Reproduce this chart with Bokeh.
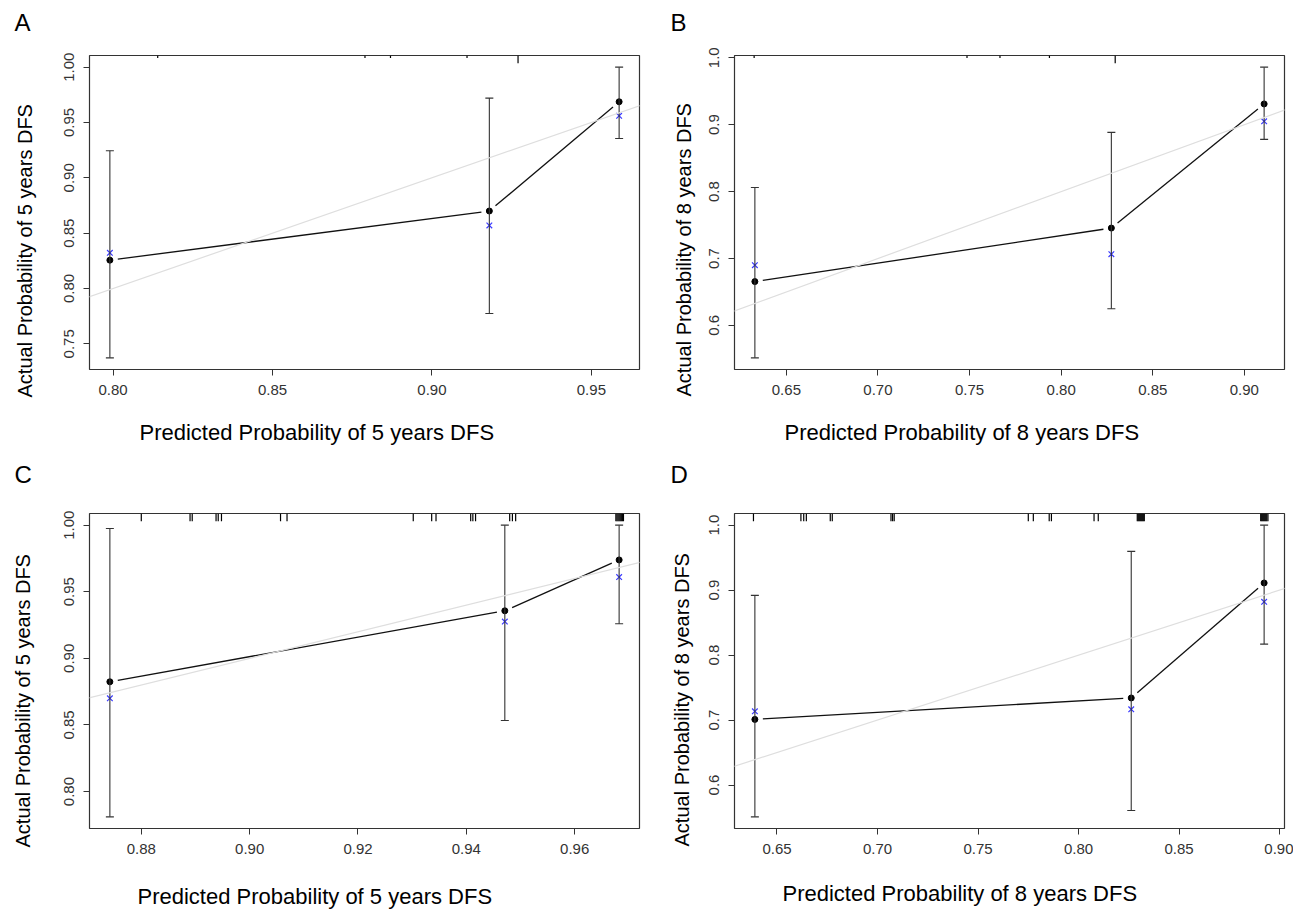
import math
from bokeh.plotting import figure
from bokeh.layouts import row, column
from bokeh.models import (Range1d, FixedTicker, Slope, Whisker, ColumnDataSource,
                          Title, TeeHead, NumeralTickFormatter)
from bokeh.embed import file_html
from bokeh.resources import INLINE

# ---------------- data ----------------
# Panel A : 5-year DFS (training)
a_pred = [0.799, 0.918, 0.9587]
a_obs = [0.8256, 0.870, 0.9687]
a_corr = [0.8322, 0.857, 0.956]
a_lo = [0.7373, 0.7774, 0.9355]
a_hi = [0.9244, 0.972, 1.0]
a_rug = [0.814, 0.879, 0.887, 0.911, 0.927]
a_rug_n = [1, 1, 1, 1, 3]
a_xticks = [0.80, 0.85, 0.90, 0.95]
a_yticks = [0.75, 0.80, 0.85, 0.90, 0.95, 1.00]

# Panel B : 8-year DFS (training)
b_pred = [0.6328, 0.8274, 0.9108]
b_obs = [0.6655, 0.7455, 0.931]
b_corr = [0.690, 0.7065, 0.905]
b_lo = [0.5515, 0.625, 0.878]
b_hi = [0.806, 0.8885, 0.986]
b_rug = [0.6324, 0.7486, 0.7666, 0.7936, 0.8295]
b_rug_n = [1, 1, 1, 1, 3]
b_xticks = [0.65, 0.70, 0.75, 0.80, 0.85, 0.90]
b_yticks = [0.6, 0.7, 0.8, 0.9, 1.0]

# Panel C : 5-year DFS (validation)
c_pred = [0.8742, 0.9471, 0.9682]
c_obs = [0.8824, 0.9357, 0.9739]
c_corr = [0.870, 0.9276, 0.961]
c_lo = [0.781, 0.8533, 0.926]
c_hi = [0.9975, 1.0, 1.0]
c_rug = [0.8800, 0.8890, 0.8894, 0.8938, 0.8942, 0.8948, 0.9057, 0.9069,
         0.9302, 0.9336, 0.9344, 0.9408, 0.9412, 0.9417, 0.9480, 0.9485,
         0.9491, 0.9676, 0.9678, 0.9680, 0.9682, 0.9684, 0.9686, 0.9688, 0.9690]
c_rug_n = [3] * len(c_rug)
c_xticks = [0.88, 0.90, 0.92, 0.94, 0.96]
c_yticks = [0.80, 0.85, 0.90, 0.95, 1.00]

# Panel D : 8-year DFS (validation)
d_pred = [0.639, 0.8262, 0.8923]
d_obs = [0.701, 0.734, 0.911]
d_corr = [0.7134, 0.7165, 0.882]
d_lo = [0.551, 0.5608, 0.8169]
d_hi = [0.8919, 0.9596, 1.0]
d_rug = [0.6383, 0.6619, 0.6633, 0.6646, 0.6765, 0.6775, 0.7067, 0.7075, 0.7083,
         0.7750, 0.7775, 0.7854, 0.7865, 0.8077, 0.8098,
         0.8292, 0.8297, 0.8302, 0.8307, 0.8312, 0.8317, 0.8322, 0.8327,
         0.8906, 0.8911, 0.8916, 0.8921, 0.8926, 0.8931, 0.8936, 0.8942]
d_rug_n = [3] * len(d_rug)
d_xticks = [0.65, 0.70, 0.75, 0.80, 0.85, 0.90]
d_yticks = [0.6, 0.7, 0.8, 0.9, 1.0]

xlab5 = "Predicted Probability of 5 years DFS"
xlab8 = "Predicted Probability of 8 years DFS"
ylab5 = "Actual Probability of 5 years DFS"
ylab8 = "Actual Probability of 8 years DFS"

# ---------------- styling ----------------
FW = 550
TXT = "Liberation Sans"
DARK = "#333333"


def spacer(px):
    # blank title used only to reserve px pixels in a side panel
    return Title(text=" ", text_font_size="1px", standoff=max(px - 3, 0),
                 text_color="white")


def panel(pred, obs, corr, lo, hi, rug, rug_n, xticks, yticks, yfmt,
          letter, xlab, ylab, fh, top, bottom, left, right, pos):
    xs = max(pred) - min(pred)
    x0, x1 = min(pred) - 0.04 * xs, max(pred) + 0.04 * xs
    ys = max(hi) - min(lo)
    y0, y1 = min(lo) - 0.04 * ys, max(hi) + 0.04 * ys
    p = figure(frame_width=FW, frame_height=fh, min_border_left=left,
               min_border_right=right, min_border_top=top, min_border_bottom=bottom,
               x_range=Range1d(x0, x1), y_range=Range1d(y0, y1),
               output_backend="svg", toolbar_location=None,
               background_fill_color="white", border_fill_color="white")
    p.xgrid.visible = False
    p.ygrid.visible = False
    p.outline_line_color = DARK
    p.outline_line_width = 1.2
    p.outline_line_alpha = 1.0
    for ax, ticks in ((p.xaxis[0], xticks), (p.yaxis[0], yticks)):
        ax.ticker = FixedTicker(ticks=ticks)
        ax.axis_line_color = None
        ax.major_tick_line_color = DARK
        ax.major_tick_out = 6
        ax.major_tick_in = 0
        ax.minor_tick_line_color = None
        ax.major_label_text_font = TXT
        ax.major_label_text_font_size = "15px"
        ax.major_label_text_color = DARK
        ax.major_label_standoff = 9
    p.xaxis[0].formatter = NumeralTickFormatter(format="0.00")
    p.yaxis[0].formatter = NumeralTickFormatter(format=yfmt)
    p.yaxis[0].major_label_orientation = "vertical"

    # ideal line
    p.add_layout(Slope(gradient=1, y_intercept=0, line_color="#dedede", line_width=1.2))

    # error bars
    src = ColumnDataSource(dict(x=pred, lo=lo, hi=hi, obs=obs, corr=corr))
    p.add_layout(Whisker(base="x", lower="lo", upper="hi", source=src, dimension="height",
                         line_color=DARK, line_width=1.1,
                         upper_head=TeeHead(size=8, line_color=DARK, line_width=1.1),
                         lower_head=TeeHead(size=8, line_color=DARK, line_width=1.1),
                         level="glyph"))

    # apparent curve with gaps around the points (R type = "b")
    kx = FW / (x1 - x0)
    ky = fh / (y1 - y0)
    gap = 8.0
    sx0, sy0, sx1, sy1 = [], [], [], []
    for i in range(len(pred) - 1):
        dx = (pred[i + 1] - pred[i]) * kx
        dy = (obs[i + 1] - obs[i]) * ky
        t = gap / math.hypot(dx, dy)
        sx0.append(pred[i] + t * (pred[i + 1] - pred[i]))
        sy0.append(obs[i] + t * (obs[i + 1] - obs[i]))
        sx1.append(pred[i + 1] - t * (pred[i + 1] - pred[i]))
        sy1.append(obs[i + 1] - t * (obs[i + 1] - obs[i]))
    p.segment(x0=sx0, y0=sy0, x1=sx1, y1=sy1, line_color="#111111", line_width=1.3)

    p.scatter(x="x", y="obs", source=src, size=6, color="black")
    p.scatter(x="x", y="corr", source=src, marker="x", size=8,
              line_color="#3a3aff", line_width=1.2)

    # rug of predicted probabilities along the top
    ry1 = [y1 - 2.6 * n / ky for n in rug_n]
    p.segment(x0=rug, y0=[y1] * len(rug), x1=rug, y1=ry1, line_color="black", line_width=1.2)

    lofs, lsp, xofs, xsp, yofs, ysp = pos
    # panel letter (outermost item of the top panel)
    p.title.text = letter
    p.title.align = "left"
    p.title.offset = lofs
    p.title.standoff = 0
    p.title.text_font = TXT
    p.title.text_font_size = "24px"
    p.title.text_font_style = "normal"
    p.title.text_color = "black"
    p.add_layout(spacer(lsp), "above")
    # x axis title
    p.add_layout(spacer(xsp), "below")
    p.add_layout(Title(text=xlab, align="left", offset=xofs, standoff=0,
                       text_font=TXT, text_font_size="22px", text_font_style="normal",
                       text_color="black"), "below")
    # y axis title
    p.add_layout(spacer(ysp), "left")
    p.add_layout(Title(text=ylab, align="left", offset=yofs, standoff=0,
                       text_font=TXT, text_font_size="20px", text_font_style="normal",
                       text_color="black"), "left")
    return p


pA = panel(a_pred, a_obs, a_corr, a_lo, a_hi, a_rug, a_rug_n, a_xticks, a_yticks, "0.00",
           "A", xlab5, ylab5, 314, 55, 87, 89, 7, (-75, 20, 50, 20, -28, 26))
pB = panel(b_pred, b_obs, b_corr, b_lo, b_hi, b_rug, b_rug_n, b_xticks, b_yticks, "0.0",
           "B", xlab8, ylab8, 314, 55, 87, 88, 9, (-64, 20, 50, 20, -27, 12))
pC = panel(c_pred, c_obs, c_corr, c_lo, c_hi, c_rug, c_rug_n, c_xticks, c_yticks, "0.00",
           "C", xlab5, ylab5, 315, 57, 83, 89, 7, (-75, 26, 48, 25, -19, 28))
pD = panel(d_pred, d_obs, d_corr, d_lo, d_hi, d_rug, d_rug_n, d_xticks, d_yticks, "0.0",
           "D", xlab8, ylab8, 315, 57, 83, 88, 9, (-64, 26, 48, 22, -18, 14))

layout = column(row(pA, pB), row(pC, pD))
open("out.html", "w").write(file_html(layout, INLINE))
